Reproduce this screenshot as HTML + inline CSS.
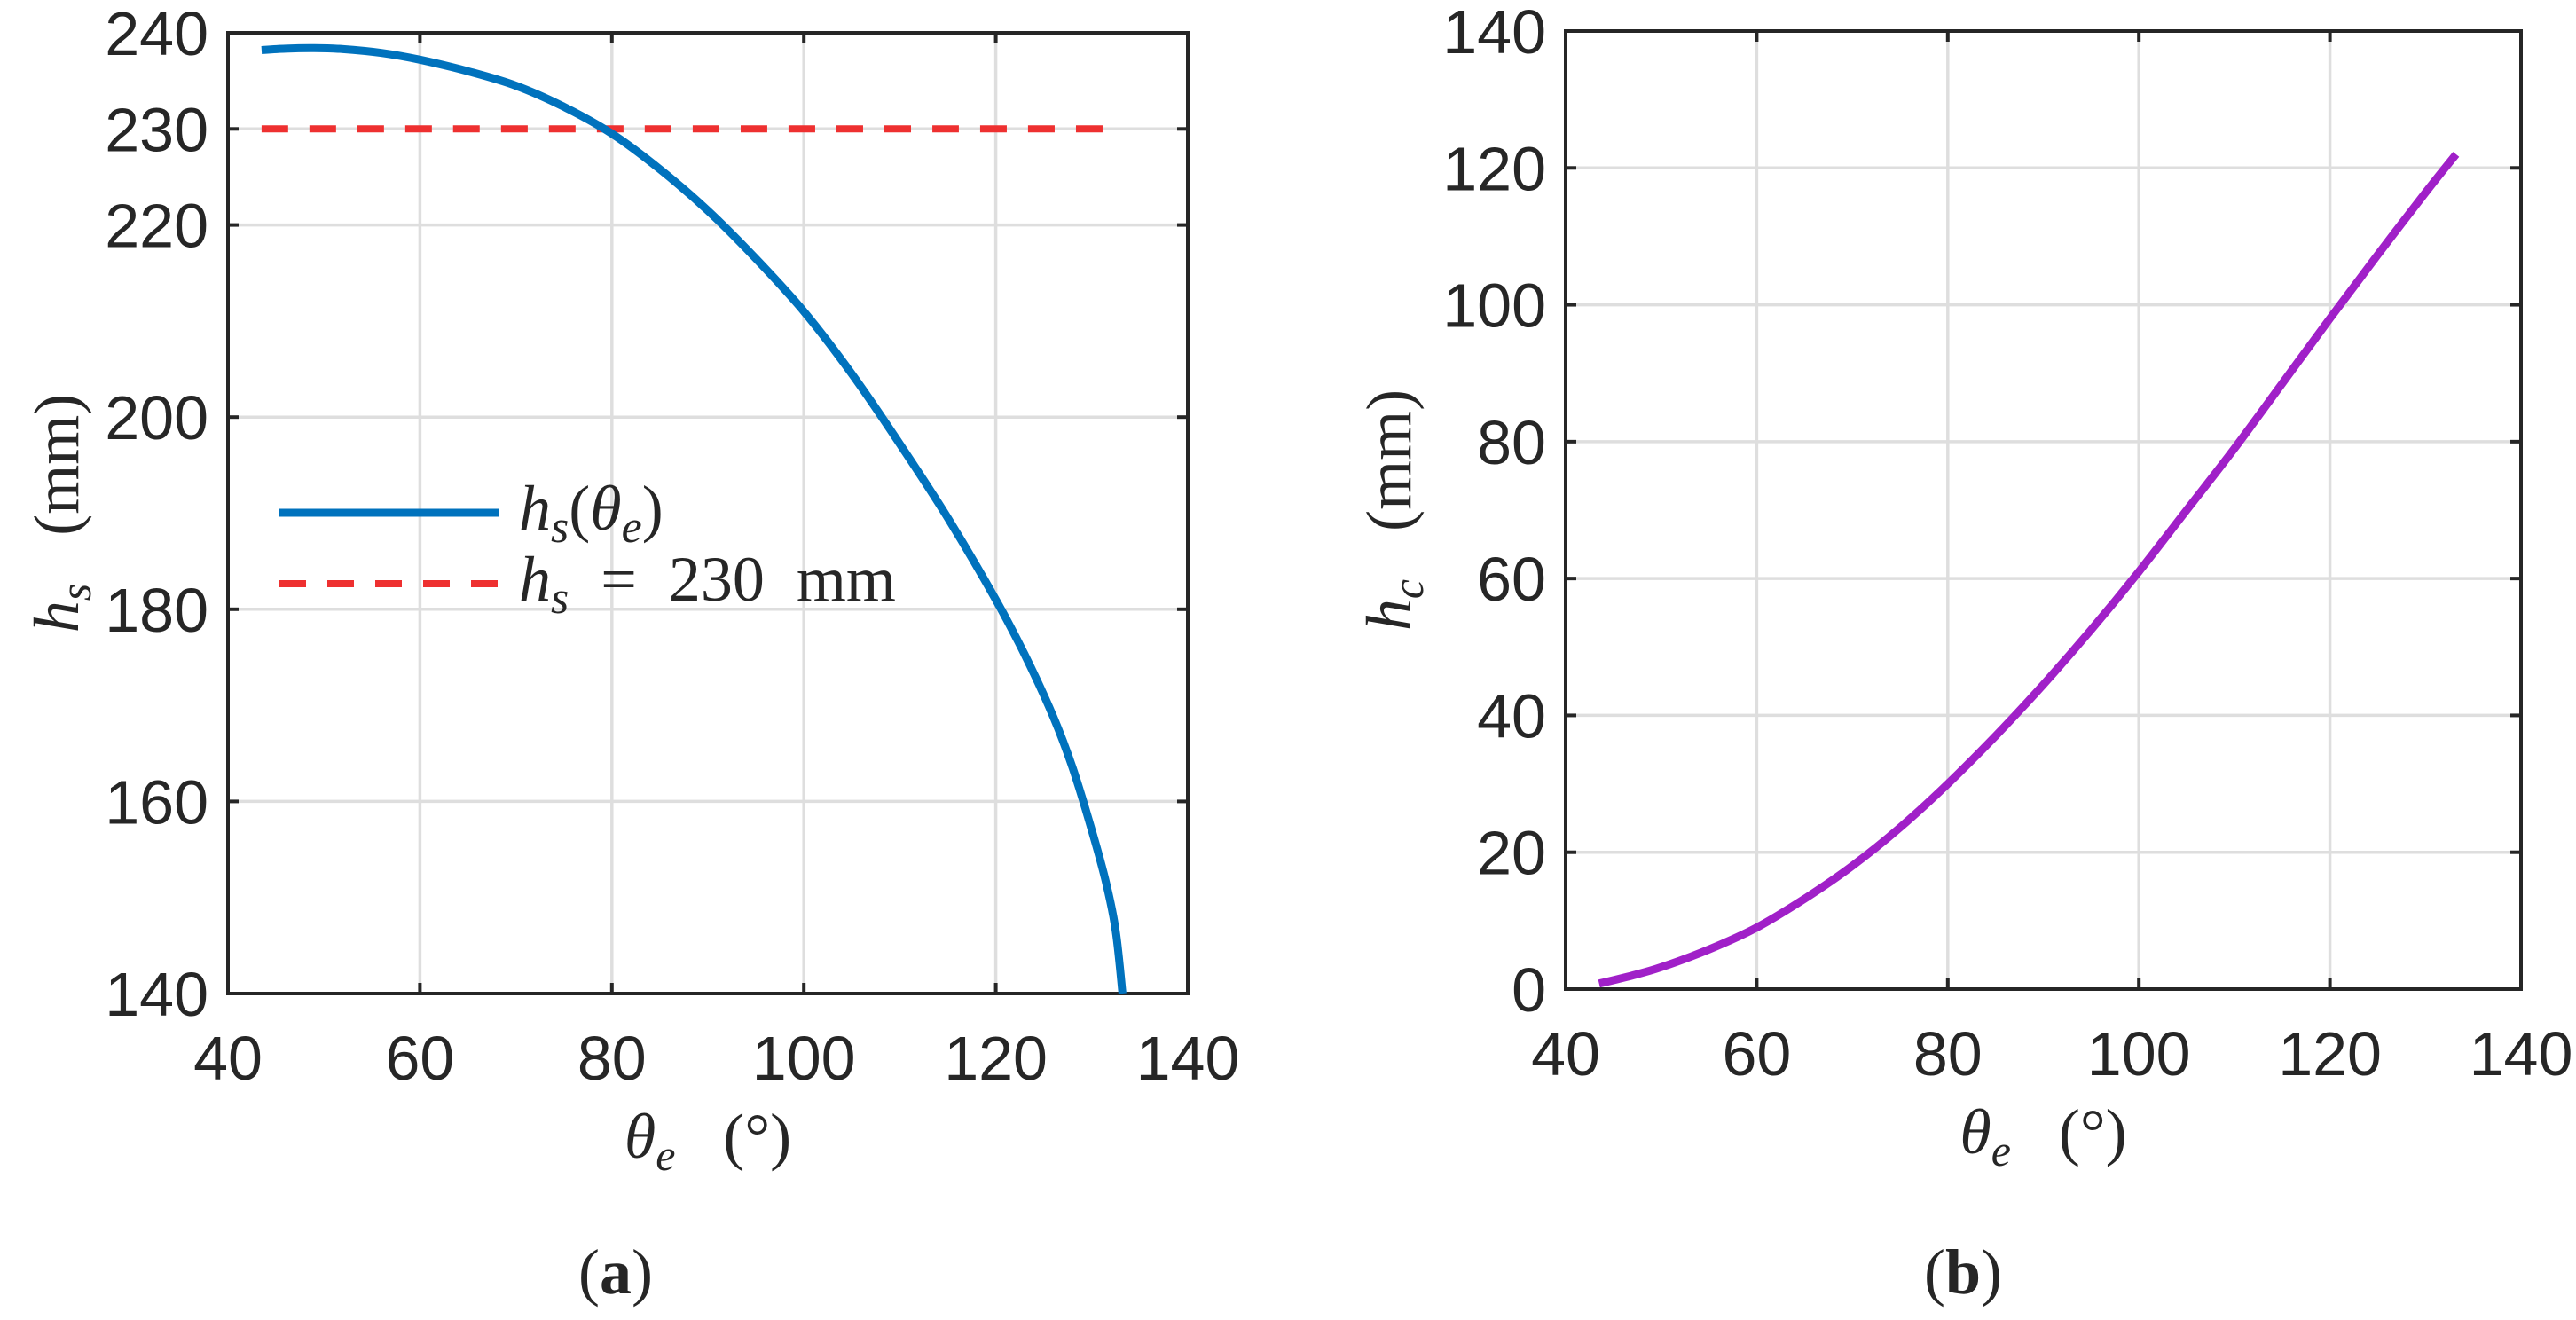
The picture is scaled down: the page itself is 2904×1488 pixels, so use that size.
<!DOCTYPE html>
<html><head><meta charset="utf-8">
<style>
html,body{margin:0;padding:0;background:#fff;}
svg{display:block;}
.tick{font-family:"Liberation Sans",sans-serif;font-size:70px;fill:#262626;}
.lab{font-family:"Liberation Serif",serif;font-size:72px;fill:#262626;}
</style></head>
<body>
<svg id="fig" width="2904" height="1488" viewBox="0 0 2904 1488" xmlns="http://www.w3.org/2000/svg">
<g id="pa"></g>
<g id="pb"></g>
<text class="lab" x="694" y="1458" text-anchor="middle" font-size="80"><tspan>(</tspan><tspan font-weight="bold">a</tspan><tspan>)</tspan></text>
<text class="lab" x="2213" y="1458" text-anchor="middle" font-size="80"><tspan>(</tspan><tspan font-weight="bold">b</tspan><tspan>)</tspan></text>
</svg>
<script>
const xTicks = [40, 60, 80, 100, 120, 140];
const aYTicks = [140, 160, 180, 200, 220, 230, 240];
const bYTicks = [0, 20, 40, 60, 80, 100, 120, 140];
const aTheta = [43.5, 46, 49, 52, 56, 60, 65, 70, 75, 80, 85, 90, 95, 100, 105, 110, 115, 120, 123, 126, 128, 130, 131.5, 132.5, 133.2];
const aHs = [238.2, 238.35, 238.4, 238.3, 237.9, 237.2, 236.0, 234.5, 232.3, 229.5, 225.8, 221.5, 216.5, 211.0, 204.5, 197.2, 189.5, 181.0, 175.3, 168.8, 163.5, 157.0, 151.5, 146.5, 140.0];
const refTheta = [43.5, 133.2];
const refHs = [230, 230];
const bTheta = [43.5, 47, 50, 55, 60, 65, 70, 75, 80, 85, 90, 95, 100, 105, 110, 115, 120, 125, 130, 133.2];
const bHc = [0.8, 2.0, 3.2, 5.8, 9.0, 13.2, 18.0, 23.6, 30.0, 37.0, 44.5, 52.5, 61.0, 70.0, 79.0, 88.5, 98.0, 107.3, 116.4, 122.0];

const NS = "http://www.w3.org/2000/svg";
function mk(parent, tag, attrs, name) {
  const el = document.createElementNS(NS, tag);
  for (const k in attrs) el.setAttribute(k, attrs[k]);
  
  
  parent.appendChild(el);
  return el;
}
function panel(g, box, ymin, ymax, yticks, ylabelSub, lx) {
  const sx = v => box.l + (v - 40) / 100 * (box.r - box.l);
  const sy = v => box.b - (v - ymin) / (ymax - ymin) * (box.b - box.t);
  xTicks.forEach(t => {
    if (t > 40 && t < 140) mk(g, 'line', {x1: sx(t), x2: sx(t), y1: box.t, y2: box.b, stroke: '#dedede', 'stroke-width': 3.5}, 'x-gridline');
  });
  yticks.forEach(t => {
    if (t > ymin && t < ymax) mk(g, 'line', {x1: box.l, x2: box.r, y1: sy(t), y2: sy(t), stroke: '#dedede', 'stroke-width': 3.5}, 'y-gridline');
  });
  xTicks.forEach(t => {
    mk(g, 'line', {x1: sx(t), x2: sx(t), y1: box.b, y2: box.b - 12, stroke: '#262626', 'stroke-width': 4}, 'x-tick');
    mk(g, 'line', {x1: sx(t), x2: sx(t), y1: box.t, y2: box.t + 12, stroke: '#262626', 'stroke-width': 4}, 'x-tick');
    const tx = mk(g, 'text', {x: sx(t), y: box.b + 97, 'text-anchor': 'middle', class: 'tick'}, 'x-tick-label');
    tx.textContent = t;
  });
  yticks.forEach(t => {
    mk(g, 'line', {x1: box.l, x2: box.l + 12, y1: sy(t), y2: sy(t), stroke: '#262626', 'stroke-width': 4}, 'y-tick');
    mk(g, 'line', {x1: box.r, x2: box.r - 12, y1: sy(t), y2: sy(t), stroke: '#262626', 'stroke-width': 4}, 'y-tick');
    const tx = mk(g, 'text', {x: box.l - 22, y: sy(t) + 25, 'text-anchor': 'end', class: 'tick'}, 'y-tick-label');
    tx.textContent = t;
  });
  mk(g, 'rect', {x: box.l, y: box.t, width: box.r - box.l, height: box.b - box.t, fill: 'none', stroke: '#262626', 'stroke-width': 4}, 'axes-box');
  const xl = mk(g, 'text', {x: (box.l + box.r) / 2, y: box.b + 185, 'text-anchor': 'middle', class: 'lab'}, 'x-axis-title');
  xl.innerHTML = '<tspan font-style="italic">θ</tspan><tspan font-style="italic" font-size="50" dy="14">e</tspan><tspan dy="-14" xml:space="preserve">   (°)</tspan>';
  const yl = mk(g, 'text', {x: 0, y: 0, 'text-anchor': 'middle', class: 'lab', transform: 'translate(' + lx + ',' + ((box.t + box.b) / 2) + ') rotate(-90)'}, 'y-axis-title');
  yl.innerHTML = '<tspan font-style="italic">h</tspan><tspan font-style="italic" font-size="50" dy="14">' + ylabelSub + '</tspan><tspan dy="-14" xml:space="preserve">   (mm)</tspan>';
  return {sx, sy};
}
function pathD(xs, ys, sx, sy) {
  const P = xs.map((v, i) => [sx(v), sy(ys[i])]);
  let d = 'M' + P[0][0].toFixed(1) + ',' + P[0][1].toFixed(1);
  for (let i = 0; i < P.length - 1; i++) {
    const p0 = P[Math.max(0, i - 1)], p1 = P[i], p2 = P[i + 1], p3 = P[Math.min(P.length - 1, i + 2)];
    const c1 = [p1[0] + (p2[0] - p0[0]) / 6, p1[1] + (p2[1] - p0[1]) / 6];
    const c2 = [p2[0] - (p3[0] - p1[0]) / 6, p2[1] - (p3[1] - p1[1]) / 6];
    d += ' C' + c1.map(v => v.toFixed(1)).join(',') + ' ' + c2.map(v => v.toFixed(1)).join(',') + ' ' + p2.map(v => v.toFixed(1)).join(',');
  }
  return d;
}
const ga = document.getElementById('pa');
const A = panel(ga, {l: 257, r: 1339, t: 37, b: 1120}, 140, 240, aYTicks, 's', 88);
mk(ga, 'path', {d: pathD(refTheta, refHs, A.sx, A.sy), fill: 'none', stroke: '#ee3030', 'stroke-width': 8, 'stroke-dasharray': '30 24'}, 'reference-line-230mm');
mk(ga, 'path', {d: pathD(aTheta, aHs, A.sx, A.sy), fill: 'none', stroke: '#0072bd', 'stroke-width': 9, 'stroke-linejoin': 'round'}, 'hs-curve');
// legend
mk(ga, 'line', {x1: 315, x2: 562, y1: 578, y2: 578, stroke: '#0072bd', 'stroke-width': 9}, 'legend-line-hs');
mk(ga, 'line', {x1: 315, x2: 562, y1: 658, y2: 658, stroke: '#ee3030', 'stroke-width': 8, 'stroke-dasharray': '30 24'}, 'legend-line-ref');
const l1 = mk(ga, 'text', {x: 585, y: 597, class: 'lab', 'font-size': '76'}, 'legend-label-hs');
l1.innerHTML = '<tspan font-style="italic">h</tspan><tspan font-style="italic" font-size="52" dy="14">s</tspan><tspan dy="-14">(</tspan><tspan font-style="italic">θ</tspan><tspan font-style="italic" font-size="52" dy="14">e</tspan><tspan dy="-14">)</tspan>';
const l2 = mk(ga, 'text', {x: 585, y: 677, class: 'lab', 'font-size': '76'}, 'legend-label-ref');
l2.innerHTML = '<tspan font-style="italic">h</tspan><tspan font-style="italic" font-size="52" dy="14">s</tspan><tspan dy="-14" xml:space="preserve">  =  230  mm</tspan>';

const gb = document.getElementById('pb');
const B = panel(gb, {l: 1765, r: 2842, t: 35, b: 1115}, 0, 140, bYTicks, 'c', 1590);
mk(gb, 'path', {d: pathD(bTheta, bHc, B.sx, B.sy), fill: 'none', stroke: '#a020c8', 'stroke-width': 9, 'stroke-linejoin': 'round'}, 'hc-curve');
</script>
</body></html>
